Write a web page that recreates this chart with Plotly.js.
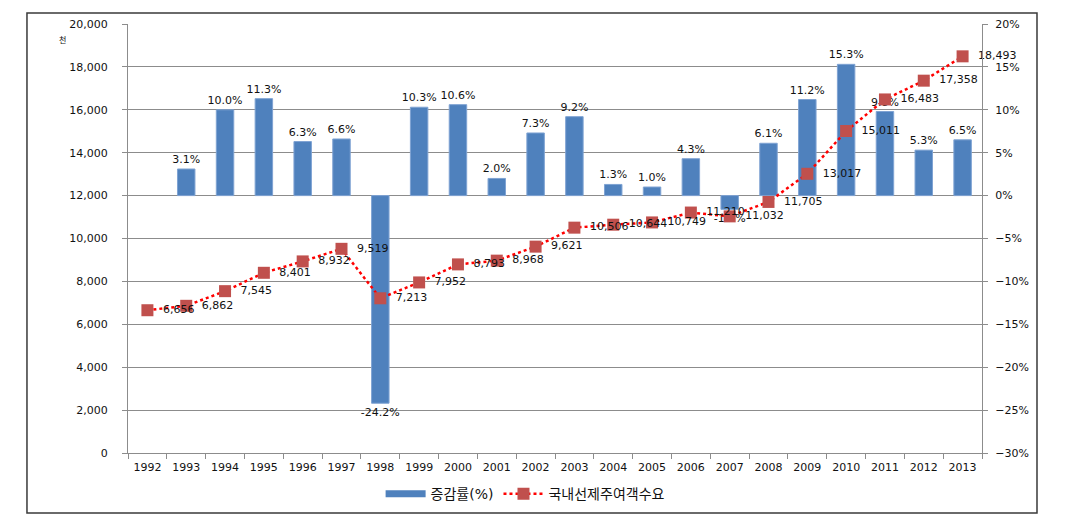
<!DOCTYPE html>
<html>
<head>
<meta charset="utf-8">
<script src="https://cdn.plot.ly/plotly-3.0.1.min.js"></script>
<style>html,body{margin:0;padding:0;background:#fff;}#chart{width:1092px;height:522px;}</style>
</head>
<body>
<div id="chart"></div>
<script>
const years = ['1992','1993','1994','1995','1996','1997','1998','1999','2000','2001','2002','2003','2004','2005','2006','2007','2008','2009','2010','2011','2012','2013'];
const barYears = years.slice(1);
const growthRate = [3.1, 10.0, 11.3, 6.3, 6.6, -24.2, 10.3, 10.6, 2.0, 7.3, 9.2, 1.3, 1.0, 4.3, -1.6, 6.1, 11.2, 15.3, 9.8, 5.3, 6.5];
const demand = [6656, 6862, 7545, 8401, 8932, 9519, 7213, 7952, 8793, 8968, 9621, 10506, 10644, 10749, 11210, 11032, 11705, 13017, 15011, 16483, 17358, 18493];
const barName = '증감률(%)';
const lineName = '국내선제주여객수요';
const unitLabel = '천';

const FONT = 'DejaVu Sans, Noto Sans CJK KR, sans-serif';
const BLUE = '#4F81BD';
const GRID = '#8C8C8C';

const traces = [
  {
    type: 'bar', x: barYears, y: growthRate, yaxis: 'y', xaxis: 'x',
    name: barName, showlegend: false,
    marker: {color: BLUE, line: {color: '#7FA3D3', width: 1}},
    width: 0.45,
    texttemplate: '%{y:.1f}%', textposition: 'outside', textangle: 0,
    constraintext: 'none', cliponaxis: false,
    outsidetextfont: {family: FONT, size: 11, color: '#111'},
    hoverinfo: 'x+y'
  },
  {
    type: 'scatter', mode: 'lines', x: [null], y: [null], yaxis: 'y',
    name: barName, line: {color: BLUE, width: 7}, hoverinfo: 'skip'
  },
  {
    type: 'scatter', mode: 'lines+markers+text', x: years, y: demand, yaxis: 'y2',
    name: lineName,
    line: {color: '#FF0000', width: 2.5, dash: 'dot'},
    marker: {symbol: 'square', size: 12, color: '#C0504D'},
    texttemplate: '\u00a0\u00a0%{y:,}', textposition: 'middle right', cliponaxis: false,
    textfont: {family: FONT, size: 11, color: '#111'}
  }
];

const layout = {
  width: 1092, height: 522,
  margin: {l: 128, r: 110, t: 24, b: 69},
  paper_bgcolor: '#fff', plot_bgcolor: '#fff',
  font: {family: FONT, size: 11, color: '#111'},
  bargap: 0.55,
  xaxis: {
    type: 'category', categoryorder: 'array', categoryarray: years,
    range: [-0.5, years.length - 0.5],
    showgrid: false, showline: true, linecolor: GRID, linewidth: 1,
    ticks: 'outside', tickson: 'boundaries', ticklen: 5, tickcolor: GRID, ticklabelstandoff: 4,
    tickfont: {family: FONT, size: 11, color: '#111'}, zeroline: false
  },
  yaxis: {
    side: 'right', range: [-30, 20], dtick: 5, ticksuffix: '%',
    showgrid: true, gridcolor: GRID, gridwidth: 1,
    showline: true, linecolor: GRID, linewidth: 1,
    ticks: 'outside', ticklen: 5, tickcolor: GRID, ticklabelstandoff: 5,
    zeroline: false, tickfont: {family: FONT, size: 11, color: '#111'}
  },
  yaxis2: {
    overlaying: 'y', side: 'left', range: [0, 20000], dtick: 2000, tickformat: ',',
    showgrid: false, showline: true, linecolor: GRID, linewidth: 1,
    ticks: 'outside', ticklen: 5, tickcolor: GRID, ticklabelstandoff: 12,
    zeroline: false, tickfont: {family: FONT, size: 11, color: '#111'}
  },
  legend: {
    orientation: 'h', x: 0.465, xanchor: 'center', y: -0.096, yanchor: 'middle',
    font: {family: FONT, size: 14, color: '#111'}, itemwidth: 40,
    traceorder: 'normal', bgcolor: 'rgba(0,0,0,0)'
  },
  annotations: [{
    xref: 'paper', yref: 'paper', x: -0.083, y: 0.979, text: unitLabel,
    showarrow: false, font: {family: FONT, size: 8, color: '#111'}
  }],
  shapes: [{
    type: 'rect', xref: 'paper', yref: 'paper',
    x0: -0.1183, x1: 1.0644, y0: -0.1399, y1: 1.0256,
    line: {color: '#3a3a3a', width: 1.5}, fillcolor: 'rgba(0,0,0,0)', layer: 'below'
  }]
};

Plotly.newPlot('chart', traces, layout, {displayModeBar: false, responsive: false});
</script>
</body>
</html>
